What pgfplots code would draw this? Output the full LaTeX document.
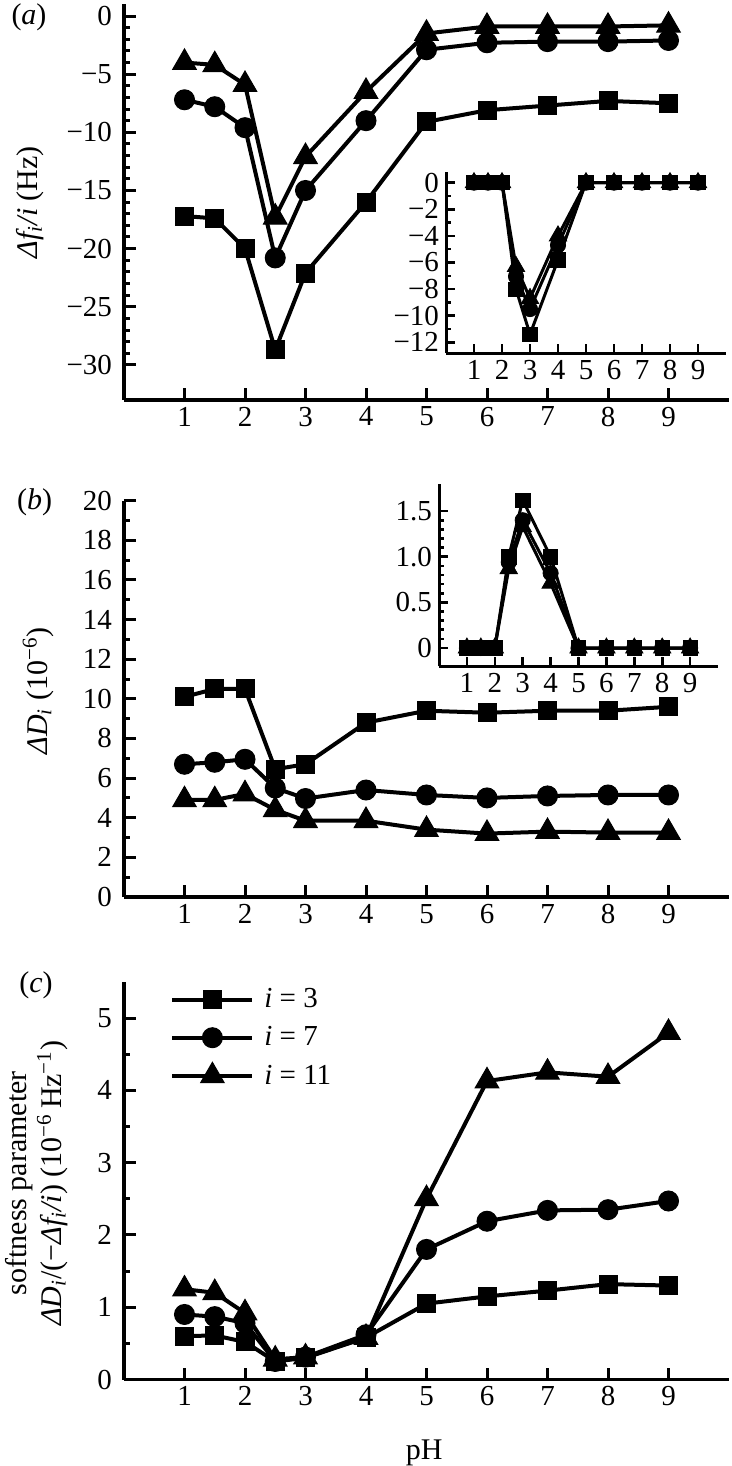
\documentclass[border=0pt]{standalone}
\usepackage{fontspec}
\setmainfont{Liberation Serif}
\usepackage{pgfplots}
\pgfplotsset{compat=1.18}
\newcommand{\fs}{\fontsize{14.5}{17}\selectfont}
\newcommand{\fl}{\fontsize{15}{17.5}\selectfont}
\pgfplotsset{
  base/.style={
    scale only axis, axis lines*=left,
    axis line style={line width=1.8pt,-},
    tick align=inside, tick style={line width=1.5pt,black},
    major tick length=6pt, minor tick length=3.2pt,
    xmin=0, xmax=10, xtick={1,2,...,9}, minor x tick num=0,
    every tick label/.append style={font=\fs},
    yticklabel style={xshift=-2.5pt},
    label style={font=\fl},
    /pgf/number format/assume math mode=true,
    clip=false,
  },
  inset/.style={
    scale only axis, axis lines*=left,
    axis line style={line width=1.5pt,-},
    tick align=inside, tick style={line width=1.3pt,black},
    major tick length=4.5pt, minor tick length=2.5pt,
    xmin=0, xmax=10, xtick={1,2,...,9}, minor x tick num=0,
    every tick label/.append style={font=\fs},
    /pgf/number format/assume math mode=true,
    clip=false,
  },
  sq/.style={black, line width=2pt, mark=square*, mark size=4.5pt, mark options={line width=0.5pt}},
  ci/.style={black, line width=2pt, mark=*, mark size=5pt, mark options={line width=0.5pt}},
  tr/.style={black, line width=2pt, mark=triangle*, mark size=6.8pt, mark options={line width=0.5pt}},
  isq/.style={black, line width=1.5pt, mark=square*, mark size=3.6pt, mark options={line width=0.4pt}},
  ici/.style={black, line width=1.5pt, mark=*, mark size=3.8pt, mark options={line width=0.4pt}},
  itr/.style={black, line width=1.5pt, mark=triangle*, mark size=5pt, mark options={line width=0.4pt}},
}
\begin{document}
\begin{tikzpicture}
\useasboundingbox (0,0) rectangle (366pt,-733pt);

% ---------------- panel (a)
\begin{axis}[base, at={(62pt,-199.9pt)}, anchor=south west,
  width=302.5pt, height=197.7pt,
  ymin=-33, ymax=1,
  ytick={-30,-25,-20,-15,-10,-5,0},
  yticklabels={−30,−25,−20,−15,−10,−5,0},
  minor y tick num=4,
  ylabel={{\itshape Δf\textsubscript{i}/i} (Hz)},
  ylabel style={at={(axis description cs:-0.155,0.5)}, anchor=center},
]
\addplot[sq] coordinates {(1,-17.2)(1.5,-17.4)(2,-20.0)(2.5,-28.7)(3,-22.1)(4,-16.0)(5,-9.1)(6,-8.1)(7,-7.7)(8,-7.3)(9,-7.5)};
\addplot[ci] coordinates {(1,-7.2)(1.5,-7.8)(2,-9.6)(2.5,-20.8)(3,-15.0)(4,-9.0)(5,-2.9)(6,-2.3)(7,-2.2)(8,-2.2)(9,-2.1)};
\addplot[tr] coordinates {(1,-4.0)(1.5,-4.2)(2,-5.9)(2.5,-17.3)(3,-12.1)(4,-6.5)(5,-1.5)(6,-0.9)(7,-0.9)(8,-0.9)(9,-0.8)};
\end{axis}

% inset (a)
\begin{axis}[inset, at={(223pt,-176.5pt)}, anchor=south west,
  width=140pt, height=90.5pt,
  ymin=-12.8, ymax=0.8,
  ytick={-12,-10,-8,-6,-4,-2,0},
  yticklabels={−12,−10,−8,−6,−4,−2,0},
  minor y tick num=1,
]
\addplot[isq] coordinates {(1,0)(1.5,0)(2,0)(2.5,-8.0)(3,-11.4)(4,-5.8)(5,0)(6,0)(7,0)(8,0)(9,0)};
\addplot[ici] coordinates {(1,0)(1.5,0)(2,0)(2.5,-7.05)(3,-9.5)(4,-4.7)(5,0)(6,0)(7,0)(8,0)(9,0)};
\addplot[itr] coordinates {(1,0)(1.5,0)(2,0)(2.5,-6.3)(3,-8.7)(4,-4.0)(5,0)(6,0)(7,0)(8,0)(9,0)};
\end{axis}

% ---------------- panel (b)
\begin{axis}[base, at={(62pt,-448.5pt)}, anchor=south west,
  width=302.5pt, height=198.15pt,
  ymin=0, ymax=20,
  ytick={0,2,...,20},
  minor y tick num=1,
  ylabel={{\itshape ΔD\textsubscript{i}} (10\textsuperscript{−6})},
  ylabel style={at={(axis description cs:-0.142,0.52)}, anchor=center},
]
\addplot[sq] coordinates {(1,10.1)(1.5,10.5)(2,10.5)(2.5,6.45)(3,6.7)(4,8.8)(5,9.4)(6,9.3)(7,9.4)(8,9.4)(9,9.6)};
\addplot[ci] coordinates {(1,6.7)(1.5,6.8)(2,6.95)(2.5,5.5)(3,4.97)(4,5.4)(5,5.15)(6,5.0)(7,5.1)(8,5.15)(9,5.15)};
\addplot[tr] coordinates {(1,4.9)(1.5,4.9)(2,5.2)(2.5,4.4)(3,3.85)(4,3.85)(5,3.4)(6,3.2)(7,3.3)(8,3.25)(9,3.25)};
\end{axis}

% inset (b)
\begin{axis}[inset, at={(219.5pt,-333.15pt)}, anchor=south west,
  width=139.5pt, height=91.3pt,
  ymin=-0.2, ymax=1.8,
  ytick={0,0.5,1,1.5},
  yticklabels={0,0.5,1.0,1.5},
  minor y tick num=4,
]
\addplot[isq] coordinates {(1,0)(1.5,0)(2,0)(2.5,1.0)(3,1.62)(4,1.0)(5,0)(6,0)(7,0)(8,0)(9,0)};
\addplot[ici] coordinates {(1,0)(1.5,0)(2,0)(2.5,0.94)(3,1.40)(4,0.82)(5,0)(6,0)(7,0)(8,0)(9,0)};
\addplot[itr] coordinates {(1,0)(1.5,0)(2,0)(2.5,0.87)(3,1.33)(4,0.71)(5,0)(6,0)(7,0)(8,0)(9,0)};
\end{axis}

% ---------------- panel (c)
\begin{axis}[base, at={(62pt,-689.75pt)}, anchor=south west,
  width=302.5pt, height=198.75pt,
  ymin=0, ymax=5.5,
  ytick={0,1,...,5},
  minor y tick num=1,
  xlabel={pH},
  xlabel style={at={(axis description cs:0.496,0)}, anchor=center, yshift=-36.75pt},
  ylabel={softness parameter\\{\itshape ΔD\textsubscript{i}}/(−{\itshape Δf\textsubscript{i}/i}) (10\textsuperscript{−6}\,Hz\textsuperscript{−1})},
  ylabel style={at={(axis description cs:-0.1446,0.494)}, anchor=center, align=center},
  legend style={at={(axis description cs:0,1)}, anchor=north west, xshift=23pt, yshift=-1pt,
    draw=none, fill=none, font=\fs, row sep=4pt, inner sep=0pt,
    nodes={inner xsep=5pt}},
  legend cell align=left,
  legend image code/.code={\draw[mark repeat=2,mark phase=2,#1] plot coordinates {(0pt,0pt)(20pt,0pt)(40pt,0pt)};},
]
\addplot[sq] coordinates {(1,0.6)(1.5,0.61)(2,0.52)(2.5,0.25)(3,0.3)(4,0.58)(5,1.05)(6,1.15)(7,1.23)(8,1.32)(9,1.3)};
\addlegendentry{\textit{i} = 3}
\addplot[ci] coordinates {(1,0.9)(1.5,0.87)(2,0.78)(2.5,0.25)(3,0.31)(4,0.62)(5,1.8)(6,2.19)(7,2.34)(8,2.35)(9,2.47)};
\addlegendentry{\textit{i} = 7}
\addplot[tr] coordinates {(1,1.25)(1.5,1.2)(2,0.92)(2.5,0.28)(3,0.31)(4,0.58)(5,2.5)(6,4.13)(7,4.25)(8,4.19)(9,4.8)};
\addlegendentry{\textit{i} = 11}
\end{axis}

\node[font=\fl] at (14.5pt,-8.5pt) {(\textit{a})};
\node[font=\fl] at (17.3pt,-251pt) {(\textit{b})};
\node[font=\fl] at (18pt,-492.5pt) {(\textit{c})};
\end{tikzpicture}
\end{document}
